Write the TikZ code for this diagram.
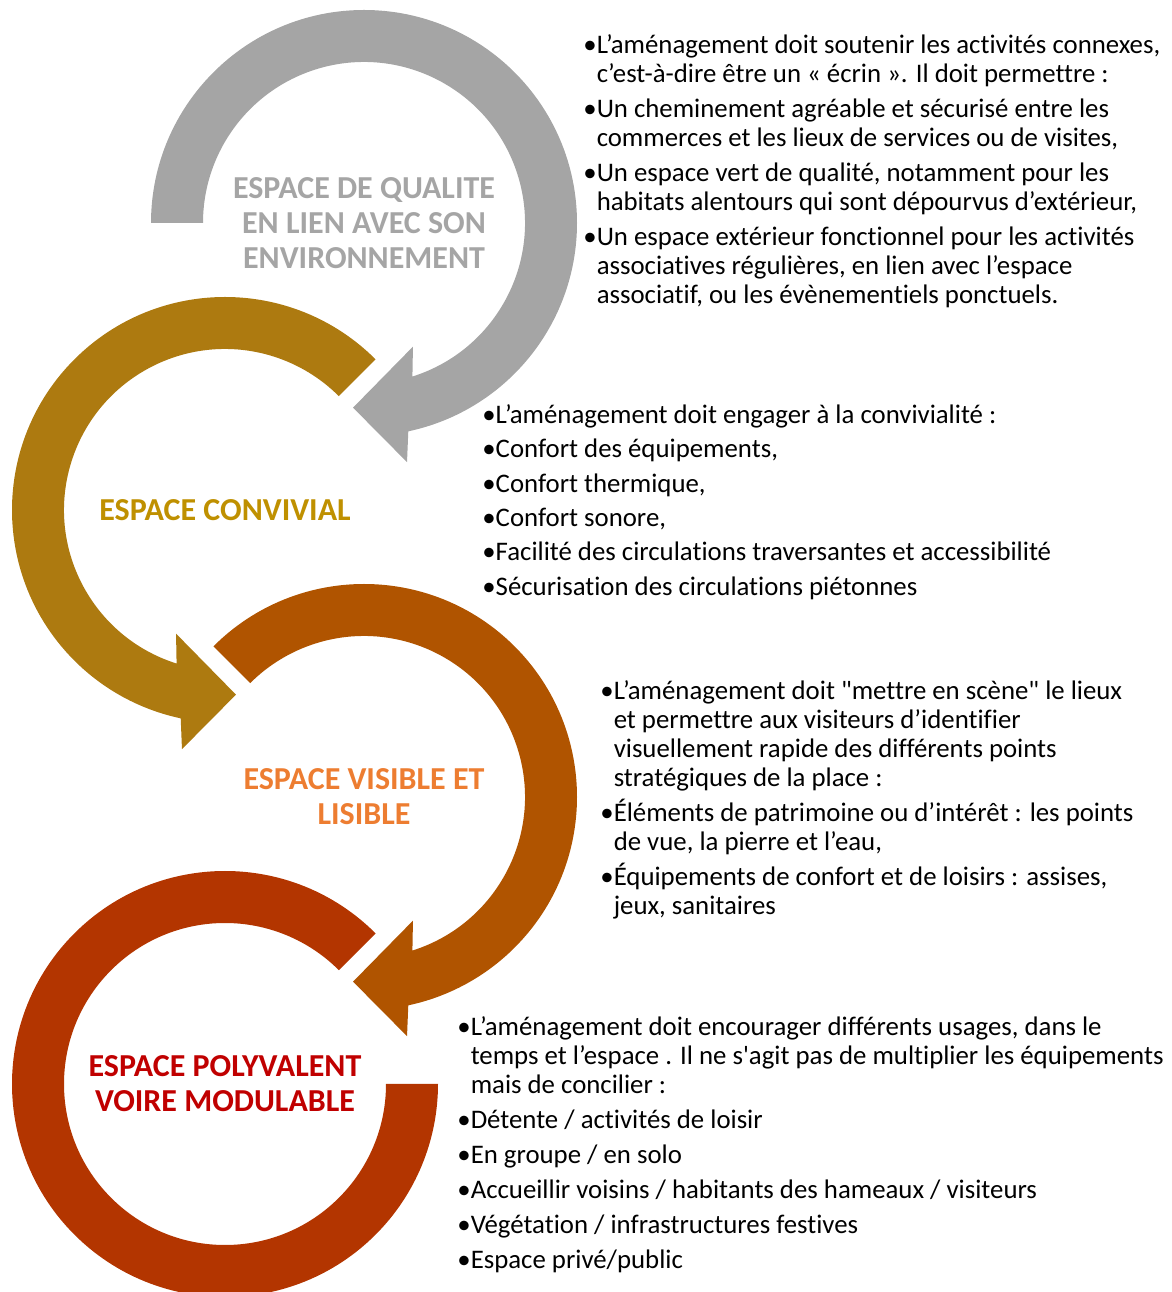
\documentclass[tikz,border=0pt]{standalone}
\usepackage{fontspec}
\setmainfont{Carlito}[Ligatures={TeXOff,NoCommon}]
\usetikzlibrary{calc,positioning}
\definecolor{gris}{HTML}{A5A5A5}
\definecolor{ocre}{HTML}{AD7A10}
\definecolor{brun}{HTML}{B05400}
\definecolor{rouge}{HTML}{B33500}
\definecolor{txtocre}{HTML}{BF9000}
\definecolor{txtorange}{HTML}{ED7D31}
\definecolor{txtrouge}{HTML}{C00000}
\tikzstyle{titre}=[font=\fontsize{16}{17.5}\selectfont\bfseries,align=center,inner sep=0pt]
\tikzstyle{liste}=[font=\fontsize{13.4}{14.5}\selectfont,align=left,anchor=north west,inner sep=0pt]
\newcommand{\ind}{\hphantom{•}}

\begin{document}
\begin{tikzpicture}[x=0.5pt,y=0.5pt]
    \useasboundingbox (0,0) rectangle (1172,1292);
    \coordinate (c1) at (364,1069);
    \coordinate (c2) at (225,782);
    \coordinate (c3) at (364,495);
    \coordinate (c4) at (225,208);

    % fleches circulaires
    \fill[gris] ($(c1)+(180:213)$) arc[start angle=180,end angle=-78,radius=213]
      -- ($(c1)+(-79.8:243)$) -- ($(c1)+(-93.4:185)$) -- ($(c1)+(-68.4:133)$)
      -- ($(c1)+(-72.5:161)$) arc[start angle=-72.5,end angle=180,radius=161] -- cycle;
    \fill[ocre] ($(c2)+(45:213)$) arc[start angle=45,end angle=258,radius=213]
      -- ($(c2)+(259.8:243)$) -- ($(c2)+(273.4:185)$) -- ($(c2)+(248.4:133)$)
      -- ($(c2)+(252.5:161)$) arc[start angle=252.5,end angle=45,radius=161] -- cycle;
    \fill[brun] ($(c3)+(135:213)$) arc[start angle=135,end angle=-78,radius=213]
      -- ($(c3)+(-79.8:243)$) -- ($(c3)+(-93.4:185)$) -- ($(c3)+(-68.4:133)$)
      -- ($(c3)+(-72.5:161)$) arc[start angle=-72.5,end angle=135,radius=161] -- cycle;
    \fill[rouge] ($(c4)+(45:213)$) arc[start angle=45,end angle=360,radius=213]
      -- ($(c4)+(0:161)$) arc[start angle=360,end angle=45,radius=161] -- cycle;

    % titres
    \node[titre,text=gris] (t1) at (c1) {ESPACE DE QUALITE\\EN LIEN AVEC SON\\ENVIRONNEMENT};
    \node[titre,text=txtocre] (t2) at (c2) {ESPACE CONVIVIAL};
    \node[titre,text=txtorange] (t3) at (c3) {ESPACE VISIBLE ET\\LISIBLE};
    \node[titre,text=txtrouge] (t4) at (c4) {ESPACE POLYVALENT\\VOIRE MODULABLE};

    % listes
    \node[liste] (l1) at (583,1258) {•L’aménagement doit soutenir les activités connexes,\\
      \ind c’est-à-dire être un « écrin ». Il doit permettre :\\[3pt]
      •Un cheminement agréable et sécurisé entre les\\
      \ind commerces et les lieux de services ou de visites,\\[3pt]
      •Un espace vert de qualité, notamment pour les\\
      \ind habitats alentours qui sont dépourvus d’extérieur,\\[3pt]
      •Un espace extérieur fonctionnel pour les activités\\
      \ind associatives régulières, en lien avec l’espace\\
      \ind associatif, ou les évènementiels ponctuels.};
    \node[liste] (l2) at (482,888) {•L’aménagement doit engager à la convivialité :\\[2.7pt]
      •Confort des équipements,\\[2.7pt]
      •Confort thermique,\\[2.7pt]
      •Confort sonore,\\[2.7pt]
      •Facilité des circulations traversantes et accessibilité\\[2.7pt]
      •Sécurisation des circulations piétonnes};
    \node[liste] (l3) at (600,612) {•L’aménagement doit "mettre en scène" le lieux\\
      \ind et permettre aux visiteurs d’identifier\\
      \ind visuellement rapide des différents points\\
      \ind stratégiques de la place :\\[3pt]
      •Éléments de patrimoine ou d’intérêt : les points\\
      \ind de vue, la pierre et l’eau,\\[3pt]
      •Équipements de confort et de loisirs : assises,\\
      \ind jeux, sanitaires};
    \node[liste] (l4) at (457,276) {•L’aménagement doit encourager différents usages, dans le\\
      \ind temps et l’espace . Il ne s'agit pas de multiplier les équipements\\
      \ind mais de concilier :\\[3pt]
      •Détente / activités de loisir\\[3pt]
      •En groupe / en solo\\[3pt]
      •Accueillir voisins / habitants des hameaux / visiteurs\\[3pt]
      •Végétation / infrastructures festives\\[3pt]
      •Espace privé/public};
\end{tikzpicture}
\end{document}
